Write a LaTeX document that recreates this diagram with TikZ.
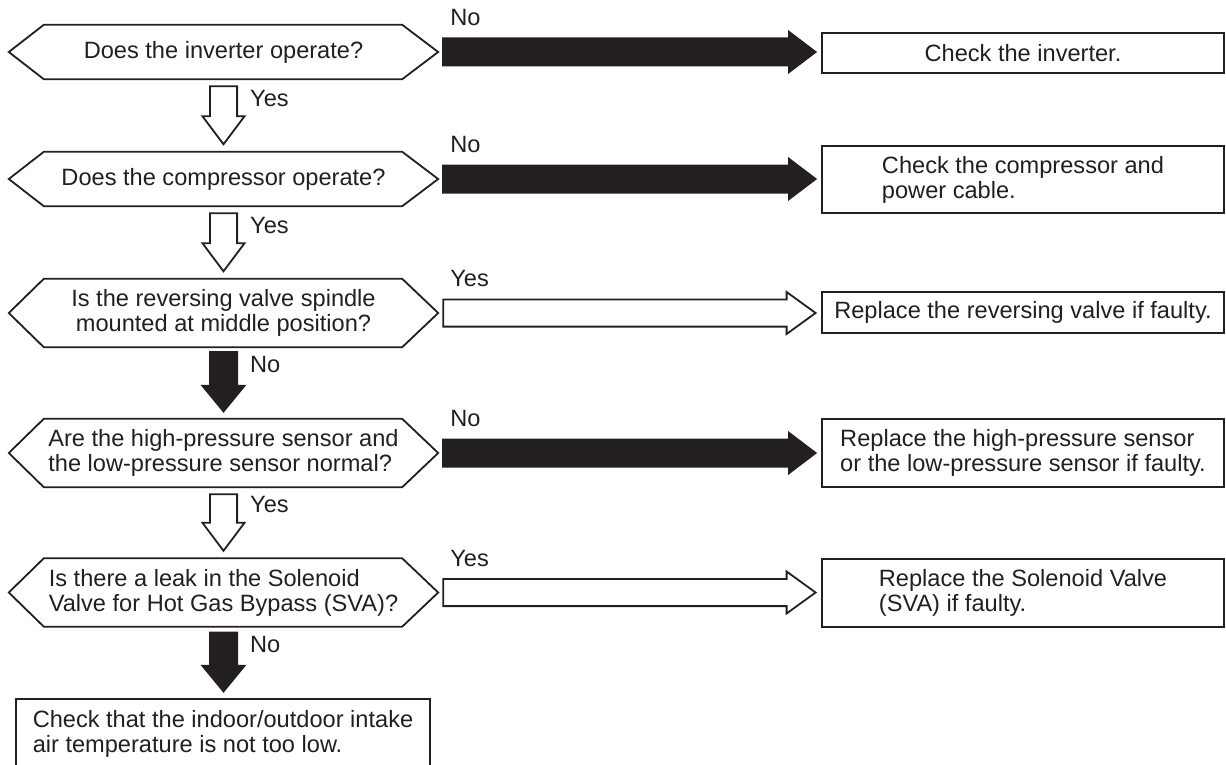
\documentclass[tikz,border=0pt]{standalone}
\usepackage{fontspec}
\setmainfont{Liberation Sans}
\usetikzlibrary{calc}
\definecolor{ink}{HTML}{231F20}
\begin{document}
\begin{tikzpicture}[x=1bp,y=-1bp,
  font=\fontsize{23.6bp}{24.8bp}\selectfont,
  hexa/.style={minimum width=429bp, minimum height=#1, inner sep=0pt, align=left, text=ink},
  rbox/.style={draw=ink, line width=1.8bp, minimum width=402bp, minimum height=#1, inner sep=0pt, align=left, text=ink},
  hexline/.style={draw=ink, line width=1.8bp, line join=miter},
  lbl/.style={text=ink, inner sep=0pt, anchor=base west},
  harrow/.style 2 args={to path={let \p1=(\tikztostart), \p2=(\tikztotarget) in
     (\x1,\y1+#1) -- (\x2-29bp,\y1+#1) -- (\x2-29bp,\y1+#2) -- (\x2,\y1)
     -- (\x2-29bp,\y1-#2) -- (\x2-29bp,\y1-#1) -- (\x1,\y1-#1) -- cycle}},
  varrow/.style 2 args={to path={let \p1=(\tikztostart), \p2=(\tikztotarget) in
     (\x1+#1,\y1) -- (\x1+#1,\y2+28bp) -- (\x1+#2,\y2+28bp) -- (\x1,\y2)
     -- (\x1-#2,\y2+28bp) -- (\x1-#1,\y2+28bp) -- (\x1-#1,\y1) -- cycle}},
  blk/.style={fill=ink, draw=none},
  wht/.style={fill=white, draw=ink, line width=1.8bp, line join=miter},
]
\useasboundingbox (0,0) rectangle (1226,765);

% decision hexagons
\node[hexa=54bp] (q1) at (223.5,52) {Does the inverter operate?};
\node[hexa=54bp] (q2) at (223.5,179) {Does the compressor operate?};
\node[hexa=68bp, align=center] (q3) at (223.5,313) {Is the reversing valve spindle\\mounted at middle position?};
\node[hexa=68bp] (q4) at (223.5,453) {Are the high-pressure sensor and\\the low-pressure sensor normal?};
\node[hexa=68bp] (q5) at (223.5,592.5) {Is there a leak in the Solenoid\\Valve for Hot Gas Bypass (SVA)?};
\foreach \n in {q1,q2,q3,q4,q5}
  \draw[hexline] ([xshift=35bp]\n.north west) -- ([xshift=-36bp]\n.north east) -- (\n.east)
    -- ([xshift=-36bp]\n.south east) -- ([xshift=35bp]\n.south west) -- (\n.west) -- cycle;

% action boxes
\node[rbox=40bp] (a1) at (1023,53) {Check the inverter.};
\node[rbox=67bp] (a2) at (1023,179.5) {Check the compressor and\\power cable.};
\node[rbox=41bp] (a3) at (1023,312.5) {Replace the reversing valve if faulty.};
\node[rbox=68bp] (a4) at (1023,453) {Replace the high-pressure sensor\\or the low-pressure sensor if faulty.};
\node[rbox=68bp] (a5) at (1023,593) {Replace the Solenoid Valve\\(SVA) if faulty.};

% final box (cut by the lower edge)
\node[minimum width=414bp, minimum height=70bp, inner sep=0pt, align=left, text=ink] (f) at (223,734)
  {Check that the indoor/outdoor intake\\air temperature is not too low.};
\draw[hexline] (f.south west) -- (f.north west) -- (f.north east) -- (f.south east);

% horizontal arrows
\draw[blk] ([xshift=4bp]q1.east) to[harrow={14.5bp}{22bp}] ([xshift=-4bp]a1.west);
\draw[blk] ([xshift=4bp]q2.east) to[harrow={14.5bp}{22bp}] ([xshift=-4bp]a2.west);
\draw[wht] ([xshift=5bp]q3.east) to[harrow={13.6bp}{21bp}] ([xshift=-5.5bp]a3.west);
\draw[blk] ([xshift=4bp]q4.east) to[harrow={14.5bp}{22bp}] ([xshift=-4bp]a4.west);
\draw[wht] ([xshift=5bp]q5.east) to[harrow={13.6bp}{21bp}] ([xshift=-5.5bp]a5.west);

% vertical arrows
\draw[wht] ([yshift=-7bp]q1.south) to[varrow={13.6bp}{21bp}] ([yshift=7.5bp]q2.north);
\draw[wht] ([yshift=-7bp]q2.south) to[varrow={13.6bp}{21bp}] ([yshift=7.5bp]q3.north);
\draw[blk] ([yshift=-4bp]q3.south) to[varrow={14.5bp}{23bp}] ([yshift=6bp]q4.north);
\draw[wht] ([yshift=-7bp]q4.south) to[varrow={13.6bp}{21bp}] ([yshift=7.5bp]q5.north);
\draw[blk] ([yshift=-5bp]q5.south) to[varrow={14.5bp}{23bp}] ([yshift=6bp]f.north);

% labels
\node[lbl] (l1) at ([xshift=12bp,yshift=26.5bp]q1.east) {No};
\node[lbl] (l2) at ([xshift=12bp,yshift=26.5bp]q2.east) {No};
\node[lbl] (l3) at ([xshift=12bp,yshift=26.5bp]q3.east) {Yes};
\node[lbl] (l4) at ([xshift=12bp,yshift=26.5bp]q4.east) {No};
\node[lbl] (l5) at ([xshift=12bp,yshift=26bp]q5.east) {Yes};
\node[lbl] (v1) at ([xshift=26.5bp,yshift=-27.5bp]q1.south) {Yes};
\node[lbl] (v2) at ([xshift=26.5bp,yshift=-27bp]q2.south) {Yes};
\node[lbl] (v3) at ([xshift=26.5bp,yshift=-25bp]q3.south) {No};
\node[lbl] (v4) at ([xshift=26.5bp,yshift=-25bp]q4.south) {Yes};
\node[lbl] (v5) at ([xshift=26.5bp,yshift=-26bp]q5.south) {No};
\end{tikzpicture}
\end{document}
